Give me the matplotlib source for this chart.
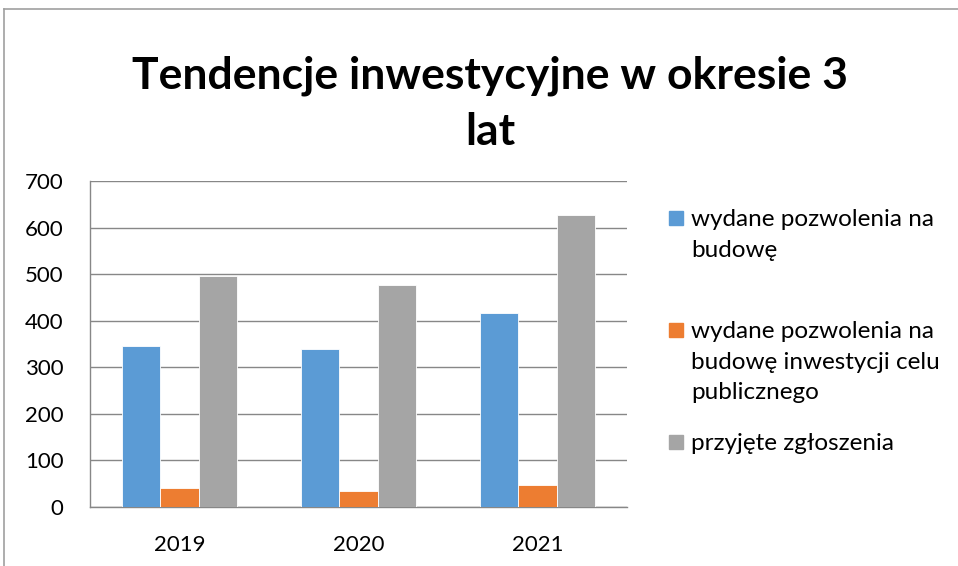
import matplotlib.pyplot as plt
from matplotlib.patches import Rectangle
from matplotlib.lines import Line2D
import numpy as np

# Data
years = ['2019', '2020', '2021']
series_names = [
    'wydane pozwolenia na\nbudowę',
    'wydane pozwolenia na\nbudowę inwestycji celu\npublicznego',
    'przyjęte zgłoszenia',
]
pozwolenia = [345, 339, 417]
pozwolenia_celu_publicznego = [41, 34, 47]
zgloszenia = [495, 476, 627]
colors = ['#5B9BD5', '#ED7D31', '#A5A5A5']

plt.rcParams['font.family'] = ['Lato', 'DejaVu Sans']

W, H = 958, 566
fig = plt.figure(figsize=(W / 100, H / 100), dpi=100)

def fx(px):
    return px / W

def fy(py):
    return 1 - py / H

ax = fig.add_axes([fx(90), fy(507), fx(627) - fx(90), fy(181) - fy(507)])

x = np.arange(len(years))
width = 0.213
values = [pozwolenia, pozwolenia_celu_publicznego, zgloszenia]
for i, (vals, c) in enumerate(zip(values, colors)):
    ax.bar(x + (i - 1) * width, vals, width, color=c, edgecolor='white',
           linewidth=0.6, zorder=3)

ax.set_xlim(-0.5, 2.5)
ax.set_ylim(0, 700)
ax.set_yticks(range(0, 701, 100))
ax.set_xticks(x)
ax.set_xticklabels(years)
ax.yaxis.grid(True, color='#878787', linewidth=1.0, zorder=0)
ax.set_axisbelow(True)
for side in ['top', 'right']:
    ax.spines[side].set_visible(False)
for side in ['left', 'bottom']:
    ax.spines[side].set_color('#878787')
    ax.spines[side].set_linewidth(1.0)
ax.tick_params(axis='y', length=0, pad=19, labelsize=16)
ax.tick_params(axis='x', length=0, pad=20, labelsize=16)

# title
fig.text(fx(490), fy(104), 'Tendencje inwestycyjne w okresie 3\nlat',
         ha='center', va='center', fontsize=32, fontweight='bold',
         linespacing=1.47)

# legend (Excel style: marker aligned with first line)
first_line_y = [218, 330, 442]
for name, c, ly in zip(series_names, colors, first_line_y):
    fig.add_artist(Rectangle((fx(669), fy(ly + 7)), fx(14), 14 / H,
                             transform=fig.transFigure, color=c))
    fig.text(fx(691), fy(ly - 9), name, ha='left', va='top', fontsize=17.5,
             linespacing=1.57, transform=fig.transFigure)

# outer chart border
fig.add_artist(Line2D([fx(4), 1], [fy(9), fy(9)], color='#A0A0A0', lw=1.2,
                      transform=fig.transFigure))
fig.add_artist(Line2D([fx(4), fx(4)], [0, fy(9)], color='#A0A0A0', lw=1.2,
                      transform=fig.transFigure))

fig.savefig('out.png', dpi=100)
